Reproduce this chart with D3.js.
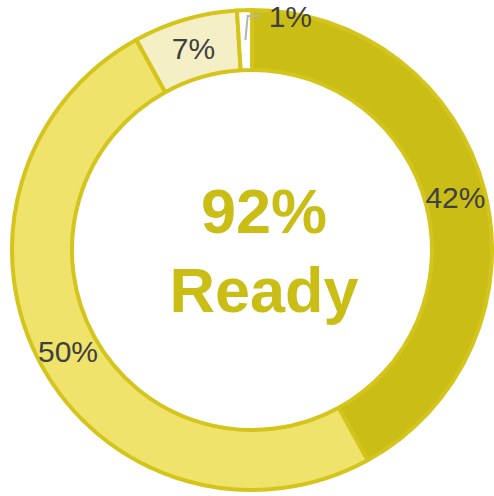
<!DOCTYPE html>
<html>
<head>
<meta charset="utf-8">
<script src="https://cdn.jsdelivr.net/npm/d3@7"></script>
<style>
  html, body { margin: 0; padding: 0; background: #fff; }
  svg { display: block; }
</style>
</head>
<body>
<svg id="chart" width="494" height="496"></svg>
<script>
// Readiness breakdown
const categories = ["Ready now", "Ready soon", "Not ready", "Unknown"];
const values = [42, 50, 7, 1];
const labels = ["42%", "50%", "7%", "1%"];
const fills = ["#cabd16", "#efe36b", "#f5efc6", "#ffffff"];
const centerLines = ["92%", "Ready"];

const svg = d3.select("#chart");
const cx = 252, cy = 250;
const outerR = 240, innerR = 180;
const labelR = (outerR + innerR) / 2;

const pie = d3.pie().sort(null).value(d => d.value);
const arcs = pie(categories.map((c, i) => ({ name: c, value: values[i], label: labels[i], fill: fills[i] })));

const arc = d3.arc().innerRadius(innerR).outerRadius(outerR);
const labelArc = d3.arc().innerRadius(labelR).outerRadius(labelR);

const g = svg.append("g").attr("transform", `translate(${cx},${cy})`);

g.selectAll("path.slice")
  .data(arcs)
  .join("path")
  .attr("class", "slice")
  .attr("d", arc)
  .attr("fill", d => d.data.fill)
  .attr("stroke", "#d4c41c")
  .attr("stroke-width", 4)
  .attr("stroke-linejoin", "round");

// Labels inside the ring, except the smallest slice which gets a leader line
const big = arcs.filter(d => d.data.value >= 5);
const small = arcs.filter(d => d.data.value < 5);

g.selectAll("text.lbl")
  .data(big)
  .join("text")
  .attr("class", "lbl")
  .attr("transform", d => `translate(${labelArc.centroid(d)})`)
  .attr("text-anchor", "middle")
  .attr("dy", "0.35em")
  .attr("font-family", "Liberation Sans, Arial, sans-serif")
  .attr("font-size", 30)
  .attr("fill", "#404040")
  .text(d => d.data.label);

small.forEach(d => {
  const mid = (d.startAngle + d.endAngle) / 2;
  const p0 = [Math.sin(mid) * (innerR + 30), -Math.cos(mid) * (innerR + 30)];
  const p1 = [Math.sin(mid) * (outerR - 7) + 3, -Math.cos(mid) * (outerR - 7) - 1];
  const p2 = [p1[0] + 12, p1[1]];
  g.append("polyline")
    .attr("points", [p0, p1, p2].map(p => p.join(",")).join(" "))
    .attr("fill", "none")
    .attr("stroke", "#b4b4b4")
    .attr("stroke-width", 2);
  g.append("text")
    .attr("x", p2[0] + 9)
    .attr("y", p2[1])
    .attr("dy", "0.35em")
    .attr("font-family", "Liberation Sans, Arial, sans-serif")
    .attr("font-size", 30)
    .attr("fill", "#404040")
    .text(d.data.label);
});

// Center summary
const ct = svg.append("g")
  .attr("font-family", "Liberation Sans, Arial, sans-serif")
  .attr("font-weight", "bold")
  .attr("font-size", 63)
  .attr("fill", "#cabd16")
  .attr("text-anchor", "middle");
ct.append("text").attr("x", 264).attr("y", 233).text(centerLines[0]);
ct.append("text").attr("x", 264).attr("y", 312).text(centerLines[1]);
</script>
</body>
</html>
